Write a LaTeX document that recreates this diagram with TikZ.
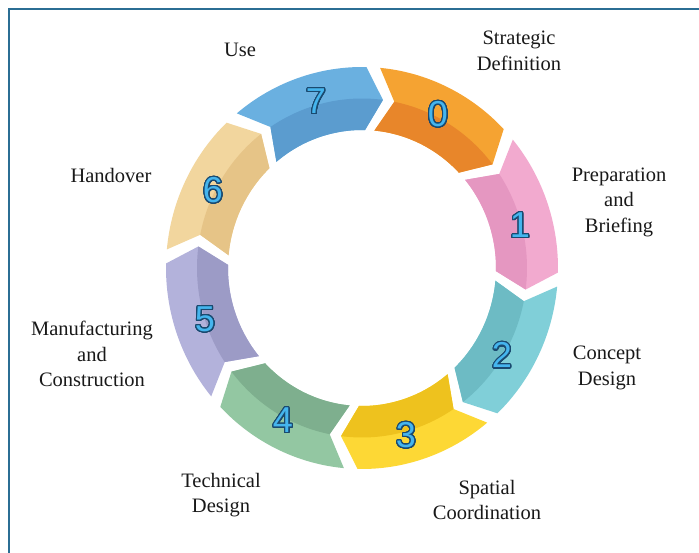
\documentclass[tikz,border=0pt]{standalone}
\usepackage{fontspec}
\setmainfont{Liberation Serif}
\newfontfamily\numfont{Liberation Sans}
\usepackage[copies]{contour}
\contourlength{1.2pt}
\contournumber{32}
\definecolor{framec}{HTML}{2B6E94}
\definecolor{c0l}{HTML}{F5A332}\definecolor{c0d}{HTML}{E8862A}
\definecolor{c1l}{HTML}{F2AACF}\definecolor{c1d}{HTML}{E597C1}
\definecolor{c2l}{HTML}{80CFD8}\definecolor{c2d}{HTML}{6DBBC4}
\definecolor{c3l}{HTML}{FDD835}\definecolor{c3d}{HTML}{EEC21E}
\definecolor{c4l}{HTML}{93C7A2}\definecolor{c4d}{HTML}{7EAF8E}
\definecolor{c5l}{HTML}{B3B2DB}\definecolor{c5d}{HTML}{9C9BC6}
\definecolor{c6l}{HTML}{F2D69E}\definecolor{c6d}{HTML}{E6C487}
\definecolor{c7l}{HTML}{6AB0E0}\definecolor{c7d}{HTML}{5B9CCF}
\definecolor{numfill}{HTML}{45B5EE}
\definecolor{numline}{HTML}{1A4A70}
\begin{document}
\begin{tikzpicture}[x=1pt,y=-1pt,
  lbl/.style={align=center,font=\fontsize{20.5}{25.5}\selectfont,text=black!90,inner sep=0pt},
  num/.style={font=\numfont\fontsize{36}{36}\selectfont,inner sep=0pt},
  frame/.style={draw=framec,line width=2.2pt}]
\useasboundingbox (0,0) rectangle (699,553);
\draw[frame] (9,553) -- (9,9) -- (699,9);
\begin{scope}[shift={(362,268)},yscale=-1]
\foreach \k/\cl/\cd in {0/c0l/c0d,1/c1l/c1d,2/c2l/c2d,3/c3l/c3d,4/c4l/c4d,5/c5l/c5d,6/c6l/c6d,7/c7l/c7d}{
  \pgfmathsetmacro\s{84.7-45*\k}
  \pgfmathsetmacro\e{43.7-45*\k}
  \pgfmathsetmacro\st{\s-6}
  \pgfmathsetmacro\et{\e-6}
  \fill[\cl] (\s:196 and 201) arc[start angle=\s,end angle=\e,x radius=196,y radius=201]
     -- (\et:165 and 169.5) -- (\e:134 and 138)
     arc[start angle=\e,end angle=\s,x radius=134,y radius=138]
     -- (\st:165 and 169.5) -- cycle;
  \fill[\cd] (\st:165 and 169.5) arc[start angle=\st,end angle=\et,x radius=165,y radius=169.5]
     -- (\e:134 and 138)
     arc[start angle=\e,end angle=\s,x radius=134,y radius=138] -- cycle;
}
\end{scope}
\node[num] (n0) at (438,115) {\contour{numline}{\textcolor{numfill}{0}}};
\node[num] (n1) at (520,226) {\contour{numline}{\textcolor{numfill}{1}}};
\node[num] (n2) at (502,356) {\contour{numline}{\textcolor{numfill}{2}}};
\node[num] (n3) at (406,436) {\contour{numline}{\textcolor{numfill}{3}}};
\node[num] (n4) at (283,421) {\contour{numline}{\textcolor{numfill}{4}}};
\node[num] (n5) at (205,320) {\contour{numline}{\textcolor{numfill}{5}}};
\node[num] (n6) at (213,191) {\contour{numline}{\textcolor{numfill}{6}}};
\node[num] (n7) at (316,102) {\contour{numline}{\textcolor{numfill}{7}}};
\node[lbl] (l7) at (240,50) {Use};
\node[lbl] (l0) at (519,51) {Strategic\\Definition};
\node[lbl] (l1) at (619,202) {Preparation\\and\\Briefing};
\node[lbl] (l2) at (607,368) {Concept\\Design};
\node[lbl] (l3) at (487,500) {Spatial\\Coordination};
\node[lbl] (l4) at (221,495) {Technical\\Design};
\node[lbl] (l5) at (92,354) {Manufacturing\\and\\Construction};
\node[lbl] (l6) at (111,175) {Handover};
\end{tikzpicture}
\end{document}
